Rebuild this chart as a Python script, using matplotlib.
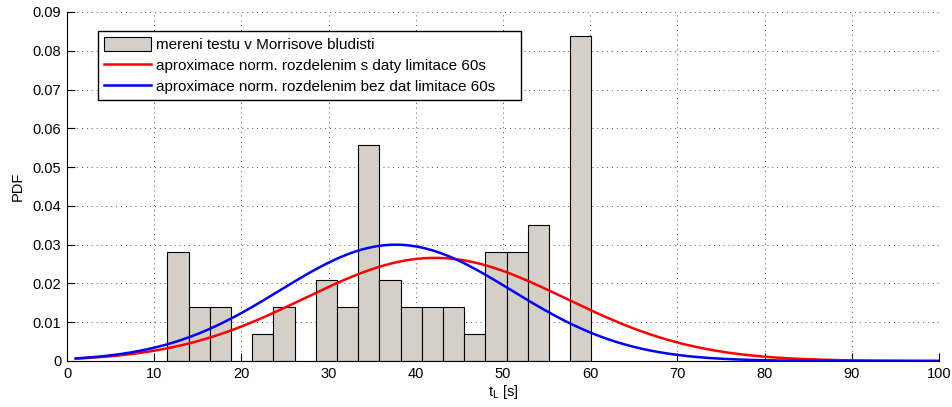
import numpy as np
import matplotlib
matplotlib.use("Agg")
import matplotlib.pyplot as plt

# ---- data ----
bin_width = 2.43
bin_centers = [12.74, 15.17, 17.60, 20.03, 22.46, 24.89, 27.32, 29.75, 32.18, 34.61,
               37.04, 39.47, 41.90, 44.33, 46.76, 49.19, 51.62, 54.05, 56.48, 58.91]
pdf_values = [0.028, 0.014, 0.014, 0.0, 0.007, 0.014, 0.0, 0.021, 0.014, 0.0558,
              0.021, 0.014, 0.014, 0.014, 0.007, 0.028, 0.028, 0.035, 0.0, 0.0837]

# normal approximations (mean, std) read from curve peaks
mu_with_limit, sigma_with_limit = 42.2, 15.0
mu_no_limit, sigma_no_limit = 37.7, 13.3
x_start, x_end = 1, 100

labels = ["mereni testu v Morrisove bludisti",
          "aproximace norm. rozdelenim s daty limitace 60s",
          "aproximace norm. rozdelenim bez dat limitace 60s"]
xticks = list(range(0, 101, 10))
yticks = [0, 0.01, 0.02, 0.03, 0.04, 0.05, 0.06, 0.07, 0.08, 0.09]
ytick_labels = ["0", "0.01", "0.02", "0.03", "0.04", "0.05", "0.06", "0.07", "0.08", "0.09"]

plt.rcParams['font.family'] = ['Liberation Sans', 'DejaVu Sans']
plt.rcParams['font.size'] = 10.5

fig = plt.figure(figsize=(9.52, 4.07), dpi=100)
ax = fig.add_axes([67/952, 1-361/407, (939-67)/952, (361-12)/407])

bars = ax.bar(bin_centers, pdf_values, width=bin_width, color='#d4d0c8',
              edgecolor='black', linewidth=0.8, zorder=2)

x = np.linspace(x_start, x_end, 500)
def npdf(x, m, s):
    return np.exp(-(x - m) ** 2 / (2 * s ** 2)) / (s * np.sqrt(2 * np.pi))

l1, = ax.plot(x, npdf(x, mu_with_limit, sigma_with_limit), color='red', lw=1.8, zorder=3)
l2, = ax.plot(x, npdf(x, mu_no_limit, sigma_no_limit), color='blue', lw=1.8, zorder=3)

ax.set_xlim(0, 100)
ax.set_ylim(0, 0.09)
ax.set_xticks(xticks)
ax.set_yticks(yticks)
ax.set_yticklabels(ytick_labels)
ax.tick_params(direction='in', length=5.5, width=0.8, pad=4, labelsize=10.5)
ax.grid(True, linestyle=(0, (1, 4)), color='#555555', linewidth=0.7, zorder=0)
ax.set_axisbelow(True)
for s in ['top', 'right']:
    ax.spines[s].set_visible(False)
for s in ['left', 'bottom']:
    ax.spines[s].set_linewidth(0.8)

ax.set_xlabel(r'$\mathregular{t_L}$ [s]', labelpad=2, fontsize=10.5)
ax.set_ylabel('PDF', labelpad=6, fontsize=10.5)

leg = ax.legend([bars, l1, l2], labels, loc='upper left',
                bbox_to_anchor=(0.0356, 0.945, 0.485, 0.0), mode='expand',
                fancybox=False, framealpha=1, edgecolor='black', borderaxespad=0,
                handlelength=3.1, handleheight=1.0, labelspacing=0.38, borderpad=0.38,
                handletextpad=0.33, fontsize=11)
leg.get_frame().set_linewidth(1.0)

fig.savefig('out.png', dpi=100)
